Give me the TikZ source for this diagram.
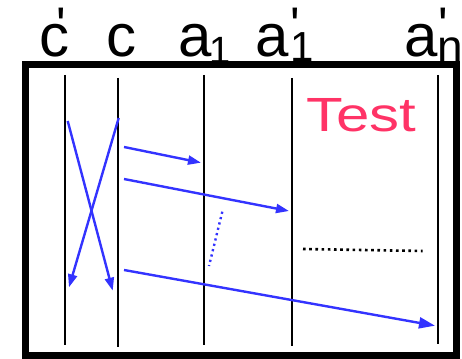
\documentclass[tikz,border=0pt]{standalone}
\usepackage{fontspec}
\newfontfamily\lab{Liberation Sans}
\usetikzlibrary{arrows.meta}
\definecolor{testred}{RGB}{255,51,102}
\definecolor{msgblue}{RGB}{51,51,255}
\begin{document}
\begin{tikzpicture}[x=1pt,y=1pt,
  lifeline/.style={line width=2.2pt,black},
  msg/.style={line width=2.4pt,msgblue,-{Triangle[length=13pt,width=9pt]}},
  lbl/.style={anchor=base,inner sep=0pt,font=\lab\fontsize{60}{60}\selectfont},
  prm/.style={anchor=base,inner sep=0pt,font=\lab\fontsize{50}{50}\selectfont},
  sub/.style={anchor=base,inner sep=0pt,font=\lab\fontsize{#1}{#1}\selectfont},
]
\useasboundingbox (0,0) rectangle (462,358);
% frame
\draw[line width=7pt] (25,293.5) rectangle (456.5,2.5);
% labels
\node[lbl] (lcp) at (54.2,301) {c};
\node[prm] (lcpp) at (61.5,315) {\textquotesingle};
\node[lbl] (lc) at (121,301) {c};
\node[lbl] (la1) at (195,301) {a};
\node[sub=38] (la1s) at (220,294) {1};
\node[lbl] (la1p) at (272,301) {a};
\node[prm] (la1pp) at (295,315) {\textquotesingle};
\node[sub=42] (la1ps) at (302,296) {1};
\node[lbl] (lan) at (421,301) {a};
\node[prm] (lanp) at (443,315) {\textquotesingle};
\node[sub=46] (lans) at (450,295) {n};
% Test
\node[anchor=base,inner sep=0pt,text=testred,font=\lab\fontsize{48}{48}\selectfont] (test) at (361.5,226.3) {\scalebox{1.25}[1]{Test}};
% lifelines
\coordinate (cpT) at (65,283);   \coordinate (cpB) at (65,13.5);
\coordinate (cT) at (118.3,280); \coordinate (cB) at (118.3,11.3);
\coordinate (aT) at (204,283);   \coordinate (aB) at (204,13.5);
\coordinate (apT) at (292,280);  \coordinate (apB) at (292,12);
\coordinate (anT) at (438,283);  \coordinate (anB) at (438,14);
\draw[lifeline] (cpT) -- (cpB);
\draw[lifeline] (cT) -- (cB);
\draw[lifeline] (aT) -- (aB);
\draw[lifeline] (apT) -- (apB);
\draw[lifeline] (anT) -- (anB);
% messages
\coordinate (m1s) at (67.7,237);  \coordinate (m1e) at (112.7,67.3);
\coordinate (m2s) at (118.7,240); \coordinate (m2e) at (69,70.7);
\coordinate (m3s) at (124,211);   \coordinate (m3e) at (201,195.3);
\coordinate (m4s) at (124,179);   \coordinate (m4e) at (289,147);
\coordinate (m5s) at (124,88);    \coordinate (m5e) at (435,32.3);
\draw[msg] (m1s) -- (m1e);
\draw[msg] (m2s) -- (m2e);
\draw[msg] (m3s) -- (m3e);
\draw[msg] (m4s) -- (m4e);
\draw[msg,-{Triangle[length=16pt,width=11pt]}] (m5s) -- (m5e);
% dotted continuation marks
\coordinate (d1s) at (222.3,146.3); \coordinate (d1e) at (209,92);
\draw[msgblue,line width=2.4pt,dash pattern=on 2.2pt off 3.3pt] (d1s) -- (d1e);
\coordinate (d2s) at (303,109); \coordinate (d2e) at (422.7,107);
\draw[black,line width=2.6pt,dash pattern=on 2.6pt off 3.6pt] (d2s) -- (d2e);
\end{tikzpicture}
\end{document}
